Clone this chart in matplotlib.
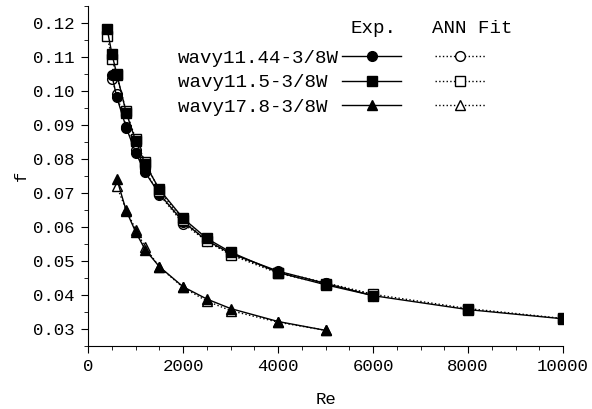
import numpy as np
import matplotlib
matplotlib.use("Agg")
from matplotlib import pyplot as plt
from matplotlib.lines import Line2D
from matplotlib.ticker import MultipleLocator, FormatStrFormatter

plt.rcParams['font.family'] = ['Liberation Mono', 'DejaVu Sans Mono']

# wavy11.44-3/8W
re_1     = [500, 600, 800, 1000, 1200, 1500, 2000, 2500, 3000, 4000, 5000, 6000]
f_exp_1  = [0.1045, 0.0982, 0.0892, 0.0818, 0.0760, 0.0697, 0.0615, 0.0560, 0.0522, 0.0470, 0.0434, 0.0398]
f_ann_1  = [0.1035, 0.0990, 0.0895, 0.0825, 0.0765, 0.0695, 0.0610, 0.0558, 0.0520, 0.0468, 0.0436, 0.0402]

# wavy11.5-3/8W
re_2     = [400, 500, 600, 800, 1000, 1200, 1500, 2000, 2500, 3000, 4000, 5000, 6000, 8000, 10000]
f_exp_2  = [0.1181, 0.1108, 0.1050, 0.0936, 0.0853, 0.0785, 0.0710, 0.0625, 0.0566, 0.0526, 0.0466, 0.0430, 0.0398, 0.0357, 0.0330]
f_ann_2  = [0.1160, 0.1094, 0.1045, 0.0940, 0.0858, 0.0790, 0.0706, 0.0620, 0.0558, 0.0518, 0.0464, 0.0432, 0.0402, 0.0360, 0.0331]

# wavy17.8-3/8W
re_3     = [600, 800, 1000, 1200, 1500, 2000, 2500, 3000, 4000, 5000]
f_exp_3  = [0.0742, 0.0648, 0.0585, 0.0533, 0.0483, 0.0424, 0.0388, 0.0360, 0.0322, 0.0296]
f_ann_3  = [0.0720, 0.0650, 0.0592, 0.0540, 0.0482, 0.0422, 0.0382, 0.0354, 0.0320, 0.0296]

labels  = ["wavy11.44-3/8W", "wavy11.5-3/8W", "wavy17.8-3/8W"]
markers = ["o", "s", "^"]

fs_leg  = 13.8
fs_tick = 12.5

fig = plt.figure(figsize=(5.92, 4.09), dpi=100)
ax = fig.add_axes([0.149, 0.154, 0.802, 0.832])

series = [(re_1, f_exp_1, f_ann_1), (re_2, f_exp_2, f_ann_2), (re_3, f_exp_3, f_ann_3)]
exp_h = []
ann_h = []
for (re, fe, fa), m in zip(series, markers):
    ax.plot(re, fa, linestyle=":", color="black", lw=1, marker=m, ms=7,
            mfc="white", mec="black", mew=1)
    ax.plot(re, fe, linestyle="-", color="black", lw=1, marker=m, ms=7,
            mfc="black", mec="black")
    exp_h.append(Line2D([], [], linestyle="-", color="black", lw=1, marker=m, ms=7, mfc="black"))
    ann_h.append(Line2D([], [], linestyle=":", color="black", lw=1, marker=m, ms=7, mfc="white", mew=1))

ax.set_xlim(0, 10000)
ax.set_ylim(0.025, 0.125)
ax.xaxis.set_major_locator(MultipleLocator(2000))
ax.xaxis.set_minor_locator(MultipleLocator(500))
ax.yaxis.set_major_locator(MultipleLocator(0.01))
ax.yaxis.set_minor_locator(MultipleLocator(0.005))
ax.yaxis.set_major_formatter(FormatStrFormatter("%.2f"))
ax.tick_params(which="major", direction="out", length=5, labelsize=fs_tick)
ax.tick_params(which="minor", direction="out", length=3)
ax.tick_params(axis="y", pad=5)
ax.tick_params(axis="x", pad=4)
ax.spines["top"].set_visible(False)
ax.spines["right"].set_visible(False)
ax.set_xlabel("Re", fontsize=fs_tick, labelpad=13)
ax.set_ylabel("f", fontsize=fs_tick, labelpad=3)

# legend: labels left-aligned in front of the Exp. samples
lab_w = max(len(s) for s in labels)
leg1 = ax.legend(exp_h, [s.ljust(lab_w) for s in labels], loc="upper left",
                 bbox_to_anchor=(0.189, 0.871), markerfirst=False, frameon=False,
                 prop={"size": fs_leg}, handlelength=3.1, handletextpad=0.15,
                 labelspacing=0.36, borderpad=0, borderaxespad=0)
ax.add_artist(leg1)
leg2 = ax.legend(ann_h, ["", "", ""], loc="upper left", bbox_to_anchor=(0.731, 0.871),
                 frameon=False, prop={"size": fs_leg}, handlelength=2.6,
                 handletextpad=0, labelspacing=0.36, borderpad=0, borderaxespad=0)
ax.text(0.60, 0.934, "Exp.", transform=ax.transAxes, fontsize=fs_leg, ha="center", va="center")
ax.text(0.808, 0.934, "ANN Fit", transform=ax.transAxes, fontsize=fs_leg, ha="center", va="center")

fig.savefig("out.png", dpi=100)
